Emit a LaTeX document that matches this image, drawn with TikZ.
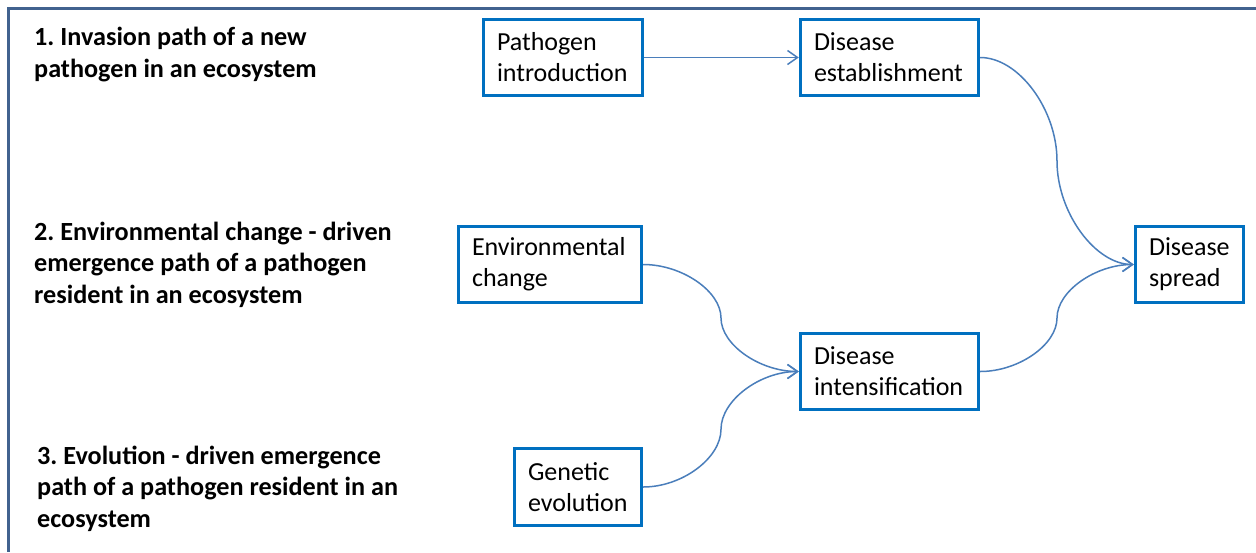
\documentclass[tikz,border=0pt]{standalone}
\usepackage{fontspec}
\setmainfont{Carlito}
\frenchspacing
\usetikzlibrary{arrows.meta,calc}
\definecolor{framecol}{HTML}{41628F}
\definecolor{boxcol}{HTML}{0070C0}
\definecolor{conncol}{HTML}{4A7EBB}
\newcommand\pptcurve[2]{%
  \coordinate (#1#2m) at ($(#1.east)!0.5!(#2.west)$);
  \draw[conn] (#1.east) .. controls ($(#1.east)!0.5!(#1#2m |- #1.east)$) and ($(#1#2m)!0.5!(#1#2m |- #1.east)$) .. (#1#2m)
     .. controls ($(#1#2m)!0.5!(#1#2m |- #2.west)$) and ($(#2.west)!0.5!(#1#2m |- #2.west)$) .. (#2.west);}
\begin{document}
\begin{tikzpicture}[x=1pt,y=-1pt,
  stagebox/.style={draw=boxcol, line width=3.4pt, fill=white, inner xsep=13.5pt, inner ysep=0pt,
    minimum height=76pt, align=left,
    font={\fontsize{26}{31}\selectfont\hyphenpenalty=10000\frenchspacing}},
  pathlabel/.style={anchor=base west, inner sep=0pt, align=left,
    font={\fontsize{26.2}{31.5}\selectfont\bfseries\frenchspacing}},
  conn/.style={draw=conncol, line width=1.5pt, -{Straight Barb[length=10pt,width=14pt]}}]
\useasboundingbox (0,0) rectangle (1256,552);
\draw[framecol, line width=3pt] (1256,8) -- (8,8) -- (8,552);

\node[pathlabel] (l1) at (34,77) {1. Invasion path of a new\\pathogen in an ecosystem};
\node[pathlabel] (l2) at (34,303) {2. Environmental change - driven\\emergence path of a pathogen\\resident in an ecosystem};
\node[pathlabel] (l3) at (37,527) {3. Evolution - driven emergence\\path of a pathogen resident in an\\ecosystem};

\node[stagebox, text width=132pt] (intro) at (563,57.5) {Pathogen\\introduction};
\node[stagebox, text width=151pt] (est) at (889.5,57.5) {Disease\\establishment};
\node[stagebox, text width=156pt] (env) at (550,264.5) {Environmental\\change};
\node[stagebox, text width=151pt] (int) at (889.5,371.5) {Disease\\intensification};
\node[stagebox, text width=100pt, minimum height=77pt] (gen) at (578,487) {Genetic\\evolution};
\node[stagebox, text width=81pt] (spread) at (1189.5,264.5) {Disease\\spread};

\draw[conn] (intro.east) -- (est.west);
\pptcurve{est}{spread}
\pptcurve{env}{int}
\pptcurve{gen}{int}
\pptcurve{int}{spread}
\end{tikzpicture}
\end{document}
